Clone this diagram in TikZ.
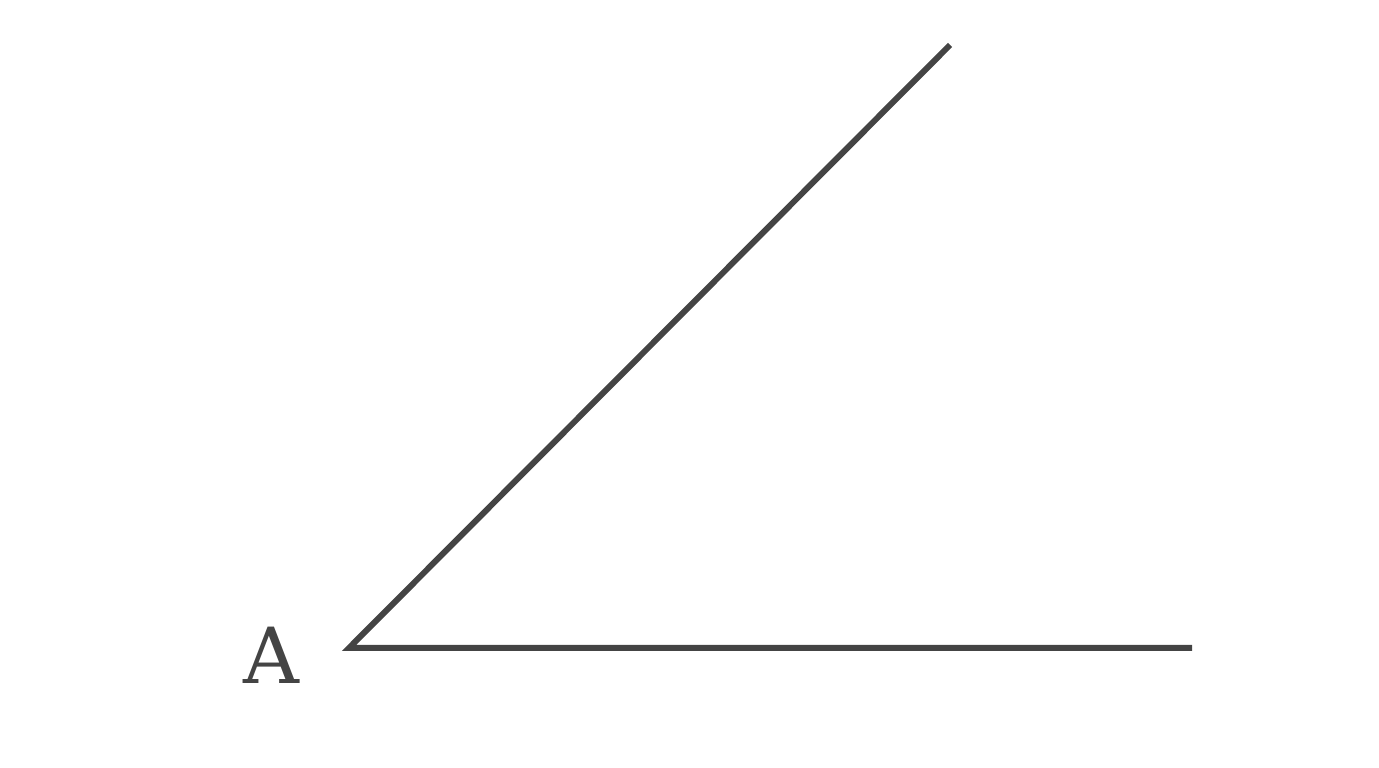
\documentclass[tikz,border=0pt]{standalone}
\usepackage{fontspec}
\newfontfamily\labelfont{DejaVu Serif}
\usetikzlibrary{positioning}
\definecolor{raygray}{HTML}{444444}
\begin{document}
\begin{tikzpicture}[x=0.01cm,y=0.01cm,line width=1.7pt]
        \useasboundingbox (0,0) rectangle (1379,768);
        % Vertex and ray ends
        \coordinate (vertexA) at (349,120);
        \coordinate (rayTop) at (950,723);
        \coordinate (rayRight) at (1192,120);

        % Label
        \node[text=raygray,
        inner sep=0,
        font=\labelfont\fontsize{22}{26}\selectfont] (labelA) at (271,113) {A};

        % Rays
        \draw[raygray,line join=miter] (rayTop) -- (vertexA) -- (rayRight);
    \end{tikzpicture}
\end{document}
